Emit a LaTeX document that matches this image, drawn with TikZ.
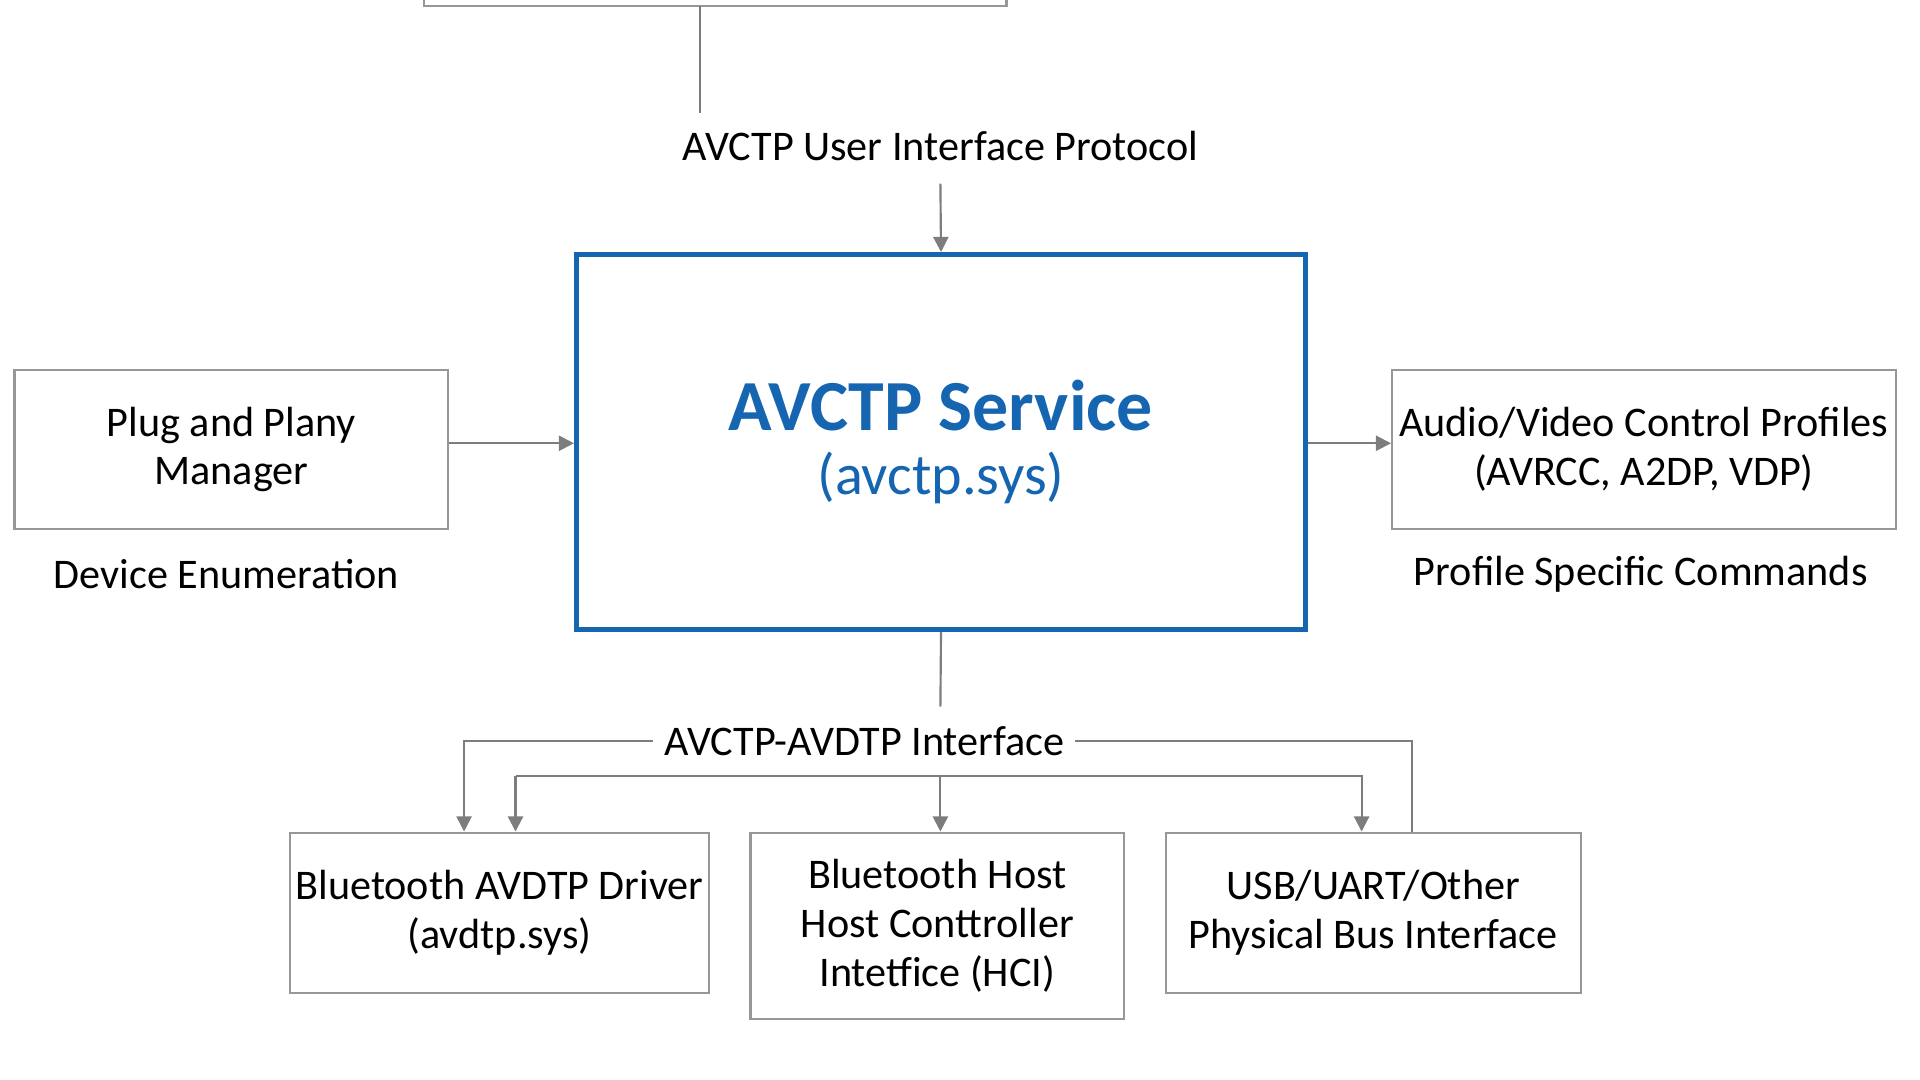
\documentclass[tikz,border=0pt]{standalone}
\usepackage{fontspec}
\setmainfont{Carlito}
\usetikzlibrary{positioning,arrows.meta}

\definecolor{svcblue}{RGB}{21,101,176}
\definecolor{linegray}{RGB}{125,125,125}

\tikzset{
    plainbox/.style={draw=linegray!80, line width=0.5pt, align=center, inner sep=0pt,
        font=\fontsize{9.8}{11.3}\selectfont},
    flow/.style={draw=linegray, line width=0.5pt, -{Triangle[length=3.5pt,width=3.5pt]}},
    wire/.style={draw=linegray, line width=0.5pt},
    caption/.style={font=\fontsize{9.8}{11.3}\selectfont}
}

\begin{document}
\begin{tikzpicture}[x=0.01cm, y=-0.01cm]
    \useasboundingbox (0,0) rectangle (1568,882);

    % Top (cut off) box
    \draw[linegray!80, line width=0.5pt] (346,-20) rectangle (822,5);
    \coordinate (topout) at (572,5);
    \coordinate (topend) at (572,92);
    \draw[wire] (topout) -- (topend);
    \node[caption] (uiproto) at (768,119) {AVCTP User Interface Protocol};

    % Central service
    \node[draw=svcblue, line width=1.2pt, minimum width=5.95cm, minimum height=3.06cm,
          align=center, text=svcblue] (service) at (768.5,361)
          {{\fontsize{16.7}{20}\selectfont\bfseries AVCTP Service}\\[3pt]
           {\fontsize{13.5}{15}\selectfont (avctp.sys)}};
    \draw[flow] (768,150) -- (service.north);

    % Side boxes
    \node[plainbox, minimum width=3.54cm, minimum height=1.30cm] (pnp) at (189,367)
        {Plug and Plany\\Manager};
    \node[caption] (enum) at (185,469) {Device Enumeration};
    \node[plainbox, minimum width=4.11cm, minimum height=1.30cm] (profiles) at (1342.5,367)
        {Audio/Video Control Profiles\\(AVRCC, A2DP, VDP)};
    \node[caption] (cmds) at (1340,469) {Profile Specific Commands};
    \draw[flow] (pnp.east |- 0,362) -- (service.west |- 0,362);
    \draw[flow] (service.east |- 0,362) -- (profiles.west |- 0,362);

    % Lower boxes
    \node[plainbox, minimum width=3.42cm, minimum height=1.31cm] (avdtp) at (408,745.5)
        {Bluetooth AVDTP Driver\\(avdtp.sys)};
    \node[plainbox, minimum width=3.05cm, minimum height=1.52cm] (hci) at (765.5,756)
        {Bluetooth Host\\Host Conttroller\\Intetfice (HCI)};
    \node[plainbox, minimum width=3.39cm, minimum height=1.31cm] (bus) at (1121.5,745.5)
        {USB/UART/Other\\Physical Bus Interface};

    % Lower connectors
    \node[caption] (avif) at (706,605) {AVCTP-AVDTP Interface};
    \draw[wire] (service.south) -- (768,577);
    \draw[flow] (533,605) -| (avdtp.north -| 379,0);
    \draw[wire] (878,605) -| (bus.north -| 1153,0);
    \draw[flow] (421,634) -- (1112,634) -- (bus.north -| 1112,0);
    \draw[flow] (421,634) -- (avdtp.north -| 421,0);
    \draw[flow] (768,634) -- (hci.north -| 768,0);
\end{tikzpicture}
\end{document}
